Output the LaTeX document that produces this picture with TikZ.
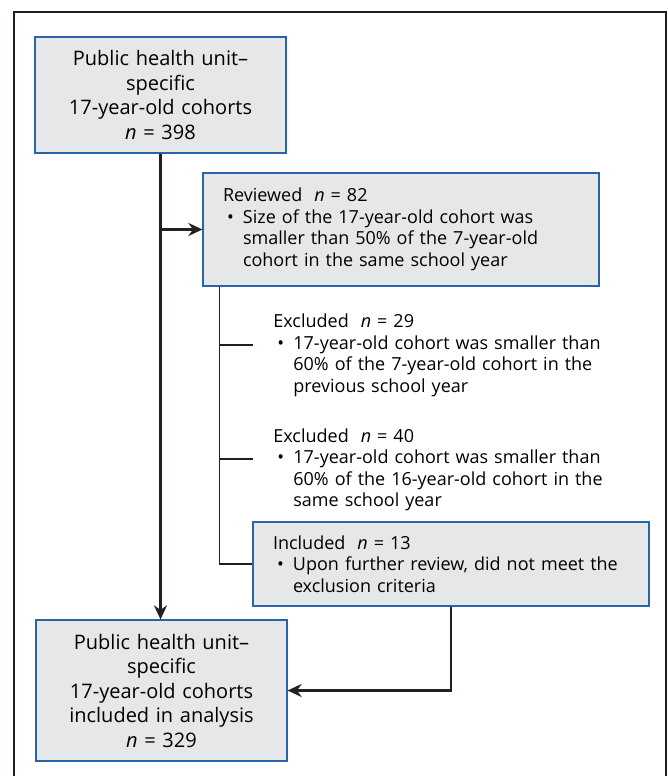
\documentclass[tikz,border=0pt]{standalone}
\usepackage{fontspec}
\setmainfont{Open Sans}
\usetikzlibrary{arrows.meta, positioning}
\definecolor{boxfill}{RGB}{230,231,233}
\definecolor{boxline}{RGB}{38,102,168}
\definecolor{linegray}{RGB}{35,31,32}
\newcommand{\bulletline}[1]{\par\noindent\makebox[10pt][l]{\hspace{2pt}\textbullet}\parbox[t]{168pt}{#1}} % bullet with hanging text
\tikzset{
  bigbox/.style={draw=boxline, fill=boxfill, line width=0.6pt, minimum width=125.5pt, text width=115pt, align=center, font=\fontsize{10}{12.25}\selectfont},
  listbox/.style={draw=boxline, fill=boxfill, line width=0.6pt, minimum width=198pt, text width=178pt, inner xsep=10pt, align=left, font=\fontsize{9}{10.75}\selectfont},
  listtext/.style={text width=178pt, inner sep=0pt, align=left, font=\fontsize{9}{10.75}\selectfont},
  mainline/.style={draw=linegray, line width=1.2pt},
  treeline/.style={draw=linegray, line width=0.8pt},
  tip/.style={-{Stealth[length=7pt,width=6.5pt]}}
}

\begin{document}
\begin{tikzpicture}[x=0.5pt, y=-0.5pt]
\useasboundingbox (0,0) rectangle (668,776);

% Outer frame, open at the bottom
\draw[linegray, line width=0.6pt] (14,776) -- (14,12) -- (666,12) -- (666,776);

% Boxes
\node[bigbox, minimum height=58pt] (top) at (160.5,95) {Public health unit--\\specific\\17-year-old cohorts\\\textit{n} = 398};
\node[listbox, minimum height=56.5pt] (reviewed) at (401,229.5) {Reviewed~~\textit{n} = 82\bulletline{Size of the 17-year-old cohort was\\smaller than 50\% of the 7-year-old\\cohort in the same school year}};
\node[listtext, anchor=west] (excl1) at (273,355.5) {Excluded~~\textit{n} = 29\bulletline{17-year-old cohort was smaller than\\60\% of the 7-year-old cohort in the\\previous school year}};
\node[listtext, anchor=west] (excl2) at (273,470) {Excluded~~\textit{n} = 40\bulletline{17-year-old cohort was smaller than\\60\% of the 16-year-old cohort in the\\same school year}};
\node[listbox, minimum height=42pt] (included) at (451,564) {Included~~\textit{n} = 13\bulletline{Upon further review, did not meet the\\exclusion criteria}};
\node[bigbox, minimum height=70.5pt] (final) at (161.5,690.5) {Public health unit--\\specific\\17-year-old cohorts\\included in analysis\\\textit{n} = 329};

% Main trunk and branch to review
\coordinate (branch) at (top.south |- reviewed.west);
\draw[mainline, tip] (top.south) -- (top.south |- final.north);
\draw[mainline, tip] (branch) -- (reviewed.west);

% Review tree
\coordinate (treetop) at ([xshift=8.5pt]reviewed.south west);
\coordinate (stubA) at (253,345);
\coordinate (stubB) at (253,459);
\draw[treeline] (treetop) |- (included.west);
\draw[treeline] (treetop |- stubA) -- (stubA);
\draw[treeline] (treetop |- stubB) -- (stubB);

% Included back to analysis
\draw[mainline, tip] (included.south) |- (final.east);

\end{tikzpicture}
\end{document}
